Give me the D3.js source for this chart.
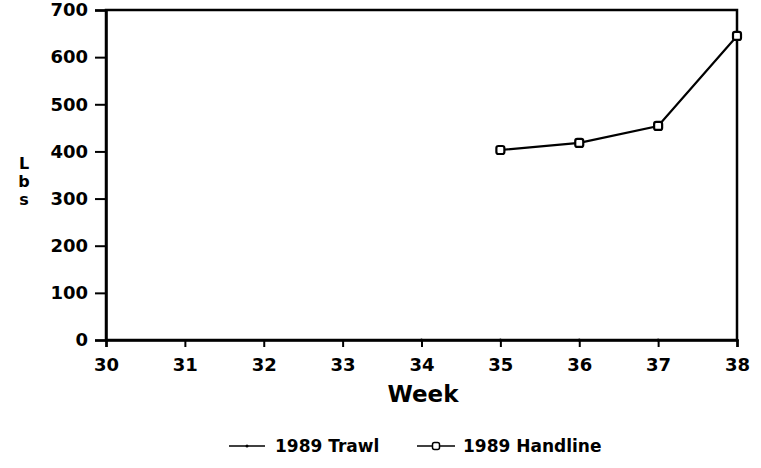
<!DOCTYPE html>
<html>
<head>
<meta charset="utf-8">
<script src="https://cdn.jsdelivr.net/npm/d3@7"></script>
<style>
  body { margin: 0; background: #fff; }
  svg text { font-family: "DejaVu Sans", "Liberation Sans", sans-serif; font-weight: bold; fill: #000; }
</style>
</head>
<body>
<div id="chart"></div>
<script>
// weekly landings, lbs
const weeks = [30, 31, 32, 33, 34, 35, 36, 37, 38];
const yTicks = [0, 100, 200, 300, 400, 500, 600, 700];
const trawlWeeks = [34, 35, 36, 37, 38];
const trawlLbs = [0, 0, 0, 0, 0];
const handlineWeeks = [35, 36, 37, 38];
const handlineLbs = [403, 418, 454, 645];
const seriesNames = ['1989 Trawl', '1989 Handline'];

const W = 761, H = 468;
const margin = { top: 10, right: 24, bottom: 128, left: 106 };
const width = W - margin.left - margin.right;
const height = H - margin.top - margin.bottom;

const svg = d3.select('#chart').append('svg')
    .attr('width', W).attr('height', H);
const g = svg.append('g')
    .attr('transform', 'translate(' + margin.left + ',' + margin.top + ')');

const x = d3.scaleLinear().domain([30, 38]).range([0, width]);
const y = d3.scaleLinear().domain([0, 700]).range([height, 0]);

// frame
g.append('rect')
    .attr('width', width).attr('height', height)
    .attr('fill', 'none').attr('stroke', '#000').attr('stroke-width', 2.5);

// axes
const yAxis = g.append('g')
    .call(d3.axisLeft(y).tickValues(yTicks).tickSize(11).tickPadding(7));
const xAxis = g.append('g').attr('transform', 'translate(0,' + height + ')')
    .call(d3.axisBottom(x).tickValues(weeks).tickFormat(d3.format('d')).tickSize(7).tickPadding(11));

[yAxis, xAxis].forEach(function (a) {
    a.select('.domain').attr('stroke-width', 2.5);
    a.selectAll('.tick line').attr('stroke-width', 2);
    a.selectAll('.tick text').style('font-size', '18px');
});

// axis titles
svg.append('text')
    .attr('x', 423).attr('y', 402)
    .attr('text-anchor', 'middle').style('font-size', '23px')
    .text('Week');

svg.append('text')
    .attr('text-anchor', 'middle').style('font-size', '16px')
    .selectAll('tspan').data(['L', 'b', 's']).enter().append('tspan')
    .attr('x', 24).attr('y', function (d, i) { return 169 + i * 18; })
    .text(function (d) { return d; });

// series
const line = d3.line()
    .x(function (d) { return x(d[0]); })
    .y(function (d) { return y(d[1]); });

const trawl = d3.zip(trawlWeeks, trawlLbs);
const handline = d3.zip(handlineWeeks, handlineLbs);

g.append('path').datum(trawl).attr('d', line)
    .attr('fill', 'none').attr('stroke', '#000').attr('stroke-width', 1.5);
g.selectAll('.trawl').data(trawl).enter().append('circle')
    .attr('class', 'trawl')
    .attr('cx', function (d) { return x(d[0]); })
    .attr('cy', function (d) { return y(d[1]); })
    .attr('r', 1.5).attr('fill', '#000');

g.append('path').datum(handline).attr('d', line)
    .attr('fill', 'none').attr('stroke', '#000').attr('stroke-width', 2.2);
g.selectAll('.hand').data(handline).enter().append('rect')
    .attr('class', 'hand')
    .attr('x', function (d) { return x(d[0]) - 4; })
    .attr('y', function (d) { return y(d[1]) - 4; })
    .attr('width', 8).attr('height', 8).attr('rx', 2)
    .attr('fill', '#fff').attr('stroke', '#000').attr('stroke-width', 2.2);

// legend
const legend = svg.append('g').attr('transform', 'translate(0,446)');
const items = [
    { name: seriesNames[0], x0: 229, x1: 265, tx: 275, marker: 'dot' },
    { name: seriesNames[1], x0: 417, x1: 455, tx: 463, marker: 'square' }
];
items.forEach(function (it) {
    legend.append('line')
        .attr('x1', it.x0).attr('x2', it.x1).attr('y1', 0).attr('y2', 0)
        .attr('stroke', '#000').attr('stroke-width', 1.5);
    const mx = (it.x0 + it.x1) / 2;
    if (it.marker === 'dot') {
        legend.append('circle').attr('cx', mx).attr('cy', 0).attr('r', 1.5).attr('fill', '#000');
    } else {
        legend.append('rect').attr('x', mx - 3.5).attr('y', -3.5)
            .attr('width', 7).attr('height', 7).attr('rx', 2)
            .attr('fill', '#fff').attr('stroke', '#000').attr('stroke-width', 1.5);
    }
    legend.append('text')
        .attr('x', it.tx).attr('y', 6).style('font-size', '17px')
        .text(it.name);
});
</script>
</body>
</html>
